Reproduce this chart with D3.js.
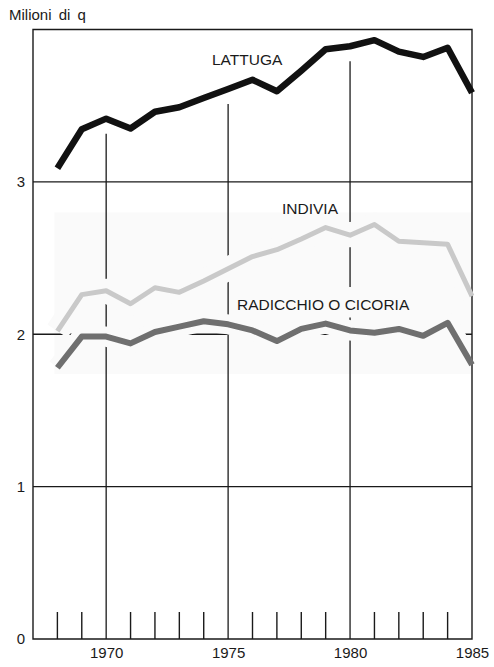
<!DOCTYPE html>
<html><head><meta charset="utf-8">
<script src="https://cdn.jsdelivr.net/npm/d3@7"></script>
<style>
html,body{margin:0;padding:0;background:#fff;}
svg{display:block;font-family:"Liberation Sans",Arial,sans-serif;}
</style></head>
<body>
<svg id="chart" width="494" height="667"></svg>
<script>
const years = [1968,1969,1970,1971,1972,1973,1974,1975,1976,1977,1978,1979,1980,1981,1982,1983,1984,1985];
const lattuga = [3.09,3.345,3.415,3.35,3.46,3.49,3.55,3.61,3.67,3.595,3.73,3.87,3.89,3.93,3.855,3.82,3.88,3.585];
const indivia = [2.02,2.26,2.285,2.20,2.305,2.275,2.35,2.43,2.51,2.555,2.625,2.70,2.65,2.72,2.61,2.60,2.59,2.25];
const radicchio = [1.78,1.985,1.985,1.94,2.015,2.05,2.085,2.065,2.025,1.955,2.035,2.07,2.025,2.01,2.035,1.99,2.075,1.80];
const seriesNames = ["LATTUGA","INDIVIA","RADICCHIO O CICORIA"];
const yTicks = [0,1,2,3];
const xLabelTicks = [1970,1975,1980,1985];
const gridYears = [1970,1975,1980];
const yTitle = "Milioni di q";

const svg = d3.select("#chart");
const x = d3.scaleLinear().domain([1967,1985]).range([33,472]);
const y = d3.scaleLinear().domain([0,4]).range([639,29.5]);
const ink = "#1a1a1a";
const band = "#fafafa";

svg.append("defs").append("clipPath").attr("id","plot")
  .append("rect").attr("x", x(1967)+1).attr("y", y(4)+1)
  .attr("width", x(1985)-x(1967)-2).attr("height", y(0)-y(4)-2);

// faint tinted band
svg.append("rect").attr("x", x(1968)-3).attr("y", y(2.8)).attr("width", x(1985)-x(1968)+3)
  .attr("height", y(1.74)-y(2.8)).attr("fill", band);

// horizontal gridlines
svg.append("g").selectAll("line").data([1,2,3]).join("line")
  .attr("x1", x(1967)).attr("x2", x(1985)).attr("y1", d=>y(d)).attr("y2", d=>y(d))
  .attr("stroke", ink).attr("stroke-width", 1.3);

// vertical gridlines starting below the LATTUGA line
svg.append("g").selectAll("line").data(gridYears).join("line")
  .attr("x1", d=>x(d)).attr("x2", d=>x(d))
  .attr("y1", d=>y(lattuga[years.indexOf(d)])+15).attr("y2", y(0))
  .attr("stroke", ink).attr("stroke-width", 1.3);

// frame
svg.append("path")
  .attr("d", `M${x(1967)},${y(0)}V${y(4)}H${x(1985)}V${y(0)}Z`)
  .attr("fill","none").attr("stroke", ink).attr("stroke-width", 1.4);

// small year ticks
const minorYears = years.filter(d=>!gridYears.includes(d) && d!==1985);
svg.append("g").selectAll("line").data(minorYears).join("line")
  .attr("x1", d=>x(d)).attr("x2", d=>x(d)).attr("y1", y(0)).attr("y2", y(0)-27)
  .attr("stroke", ink).attr("stroke-width", 1.4);

// axes labels
const yAxis = d3.axisLeft(y).tickValues(yTicks).tickSize(0).tickPadding(8).tickFormat(d3.format("d"));
const gy = svg.append("g").attr("transform", `translate(${x(1967)},0)`).call(yAxis);
gy.select(".domain").remove();
gy.selectAll("text").attr("font-size", 15).attr("fill", ink).attr("font-family","Liberation Sans, Arial, sans-serif");

const xAxis = d3.axisBottom(x).tickValues(xLabelTicks).tickSize(0).tickPadding(8).tickFormat(d3.format("d"));
const gx = svg.append("g").attr("transform", `translate(0,${y(0)})`).call(xAxis);
gx.select(".domain").remove();
gx.selectAll("text").attr("font-size", 15).attr("fill", ink).attr("font-family","Liberation Sans, Arial, sans-serif");

svg.append("text").attr("x", 9).attr("y", 20).attr("font-size", 15).attr("fill", ink)
  .attr("word-spacing", 3).text(yTitle);

const line = d3.line().x((d,i)=>x(years[i])).y(d=>y(d));

// knockout halos for the lower two series
const halo = svg.append("g").attr("clip-path","url(#plot)");
halo.append("path").datum(indivia).attr("d", line).attr("fill","none")
  .attr("stroke", band).attr("stroke-width", 24).attr("stroke-linejoin","round");
halo.append("path").datum(radicchio).attr("d", line).attr("fill","none")
  .attr("stroke", band).attr("stroke-width", 20).attr("stroke-linejoin","round");

// label knockout for RADICCHIO
svg.append("rect").attr("x", 234).attr("y", y(2.31)).attr("width", 182).attr("height", y(2.11)-y(2.31))
  .attr("fill", band);

// series lines
svg.append("path").datum(indivia).attr("d", line).attr("fill","none")
  .attr("stroke", "#c9c9c9").attr("stroke-width", 5).attr("stroke-linejoin","round");
svg.append("path").datum(radicchio).attr("d", line).attr("fill","none")
  .attr("stroke", "#6f6f6f").attr("stroke-width", 6).attr("stroke-linejoin","round");
svg.append("path").datum(lattuga).attr("d", line).attr("fill","none")
  .attr("stroke", "#111").attr("stroke-width", 6.5).attr("stroke-linejoin","round");

// series labels
const labelPos = [[212,65],[282,214],[237,310]];
svg.append("g").selectAll("text").data(seriesNames).join("text")
  .attr("x",(d,i)=>labelPos[i][0]).attr("y",(d,i)=>labelPos[i][1])
  .attr("font-size", 15.5).attr("fill", ink).text(d=>d);
</script>
</body></html>
